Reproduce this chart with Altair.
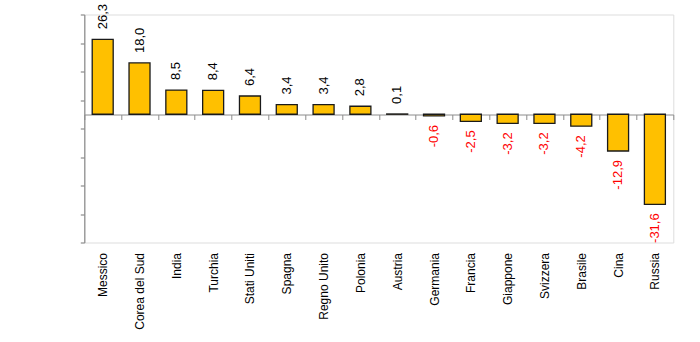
import altair as alt
import pandas as pd

paesi = ["Messico", "Corea del Sud", "India", "Turchia", "Stati Uniti", "Spagna",
         "Regno Unito", "Polonia", "Austria", "Germania", "Francia", "Giappone",
         "Svizzera", "Brasile", "Cina", "Russia"]
valori = [26.3, 18.0, 8.5, 8.4, 6.4, 3.4, 3.4, 2.8, 0.1, -0.6, -2.5, -3.2,
          -3.2, -4.2, -12.9, -31.6]
y_ticks = [-45, -35, -25, -15, -5, 5, 15, 25, 35]

df = pd.DataFrame({"paese": paesi, "valore": valori})
df["etichetta"] = df["valore"].map(lambda v: f"{v:.1f}".replace(".", ","))

FONT = "Liberation Sans"
GREY = "#8c8c8c"

x = alt.X("paese:N", sort=paesi, title=None,
          scale=alt.Scale(paddingInner=0, paddingOuter=0),
          axis=alt.Axis(orient="bottom", offset=-128, domainColor=GREY,
                        domainWidth=1, tickColor=GREY, tickSize=5, tickBand="extent",
                        labelAngle=270, labelAlign="right", labelBaseline="middle",
                        labelPadding=133, labelFont=FONT, labelFontSize=12,
                        labelColor="black", labelOverlap=False, grid=False))
y = alt.Y("valore:Q", title=None,
          scale=alt.Scale(domain=[-45, 35], nice=False, zero=False),
          axis=alt.Axis(values=y_ticks, tickCount=9, labels=True, labelOpacity=0,
                        labelOverlap=False, labelFontSize=1, labelPadding=0,
                        domainColor=GREY, domainWidth=1.2, tickColor=GREY,
                        tickWidth=1.2, tickSize=4, grid=False))

base = alt.Chart(df).encode(x=x, y=y)

bars = base.mark_bar(fill="#FFC000", stroke="#1a1a1a", strokeWidth=1.3,
                     width=alt.RelativeBandSize(0.57)).encode(y2=alt.datum(0))

pos = base.transform_filter("datum.valore >= 0").mark_text(
    angle=270, align="left", baseline="middle", yOffset=-10,
    font=FONT, fontSize=13, color="black").encode(text="etichetta:N")

neg = base.transform_filter("datum.valore < 0").mark_text(
    angle=270, align="right", baseline="middle", yOffset=9,
    font=FONT, fontSize=13, color="#FF0000").encode(text="etichetta:N")

chart = alt.layer(bars, pos, neg).properties(
    width=589, height=228,
    autosize=alt.AutoSizeParams(type="none"),
    padding={"left": 84.3, "top": 14.5, "right": 26.7, "bottom": 99.5},
).configure_view(stroke=None).configure(background="white")

chart.save("out.html", embed_options={"renderer": "svg", "actions": False})
